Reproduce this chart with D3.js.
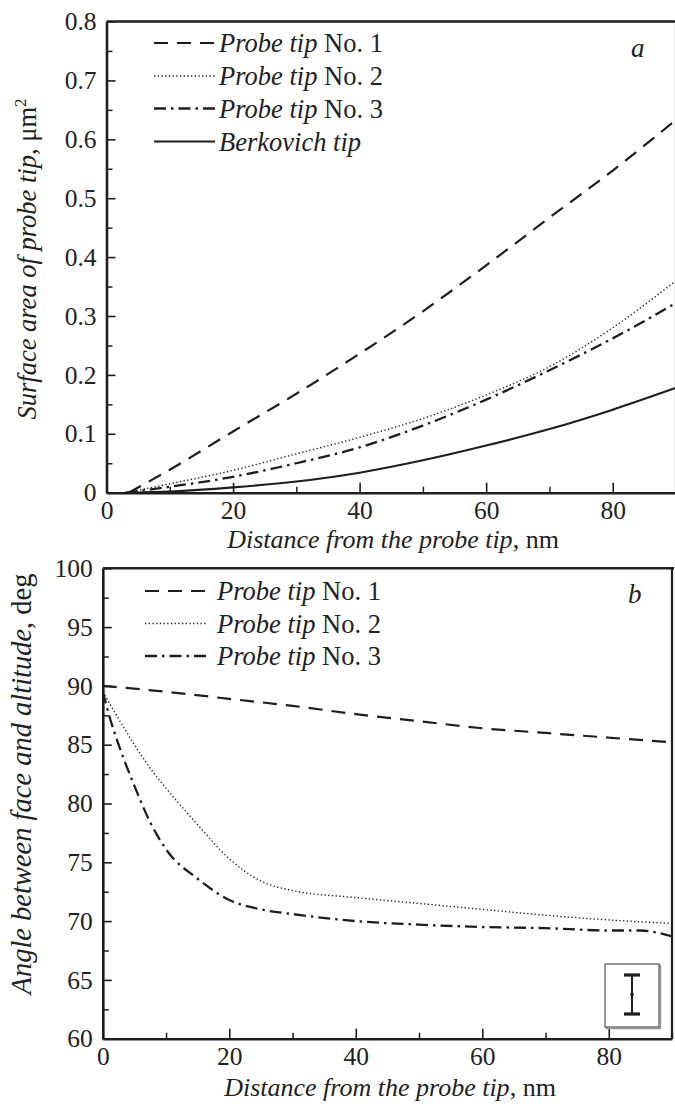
<!DOCTYPE html>
<html>
<head>
<meta charset="utf-8">
<script src="https://cdn.jsdelivr.net/npm/d3@7"></script>
<style>
  html, body { margin: 0; padding: 0; background: #fff; }
  svg, svg text { font-family: "Liberation Serif", "Times New Roman", Tinos, "DejaVu Serif", serif !important; }
  .tick text { font-size: 25.5px; fill: #222; }
</style>
</head>
<body>
<svg id="chart" width="675" height="1104"></svg>
<script>
// ---------- Data (panel a) ----------
const tip1X = [3.5, 10, 20, 30, 40, 50, 60, 70, 80, 90];
const tip1Y = [0, 0.039, 0.104, 0.168, 0.236, 0.308, 0.386, 0.467, 0.547, 0.633];
const tip2X = [3, 10, 20, 30, 40, 50, 60, 70, 80, 90];
const tip2Y = [0, 0.015, 0.038, 0.066, 0.094, 0.126, 0.166, 0.214, 0.280, 0.360];
const tip3X = [3, 10, 20, 30, 40, 50, 60, 70, 80, 90];
const tip3Y = [0, 0.010, 0.027, 0.050, 0.077, 0.114, 0.158, 0.208, 0.262, 0.322];
const berkX = [4, 10, 20, 30, 40, 50, 60, 70, 80, 90];
const berkY = [0, 0.002, 0.009, 0.019, 0.034, 0.055, 0.080, 0.108, 0.141, 0.178];

// ---------- Data (panel b) ----------
const ang1X = [0, 10, 20, 30, 40, 50, 60, 70, 80, 90];
const ang1Y = [90, 89.5, 88.9, 88.3, 87.6, 87.0, 86.4, 86.0, 85.6, 85.2];
const ang2X = [0, 2.5, 5, 7.5, 10, 15, 20, 25, 30, 40, 50, 60, 70, 80, 90];
const ang2Y = [89.5, 87.2, 85.0, 83.0, 81.3, 78.2, 75.3, 73.4, 72.6, 72.0, 71.5, 71.0, 70.5, 70.1, 69.8];
const ang3X = [0, 1, 2.5, 5, 7.5, 10, 15, 20, 25, 30, 40, 50, 60, 70, 80, 85, 90];
const ang3Y = [89.5, 87.5, 85.0, 81.5, 78.4, 76.1, 73.6, 71.8, 71.0, 70.6, 70.0, 69.7, 69.5, 69.4, 69.2, 69.2, 68.7];

// ---------- Ticks / labels ----------
const xMajorTicks = [0, 20, 40, 60, 80];
const xMinorTicks = [10, 30, 50, 70, 90];
const aMajorTicks = [0, 0.1, 0.2, 0.3, 0.4, 0.5, 0.6, 0.7, 0.8];
const aMinorTicks = [0.05, 0.15, 0.25, 0.35, 0.45, 0.55, 0.65, 0.75];
const bMajorTicks = [60, 65, 70, 75, 80, 85, 90, 95, 100];
const bMinorTicks = [62.5, 67.5, 72.5, 77.5, 82.5, 87.5, 92.5, 97.5];
const seriesNamesA = ["No. 1", "No. 2", "No. 3", "Berkovich tip"];
const seriesNamesB = ["No. 1", "No. 2", "No. 3"];

const styles = [
  { dash: "14,9", w: 2.2 },
  { dash: "1.3,2.4", w: 1.4 },
  { dash: "12,5,2.5,5", w: 2.3 },
  { dash: null, w: 2.1 }
];
const INK = "#1e1e1e";
const FONT = '"Liberation Serif", "Times New Roman", Tinos, "DejaVu Serif", serif';

const svg = d3.select("#chart");

function fmtA(d) { return d === 0 ? "0" : d3.format(".1f")(d); }

function panel(cfg) {
  const x = d3.scaleLinear().domain([0, 90]).range([cfg.left, cfg.right]);
  const y = d3.scaleLinear().domain(cfg.yDomain).range([cfg.bottom, cfg.top]);
  const g = svg.append("g").attr("font-family", FONT);
  const clipId = "clip" + cfg.id;
  svg.append("clipPath").attr("id", clipId).append("rect")
    .attr("x", cfg.left).attr("y", cfg.top)
    .attr("width", cfg.right - cfg.left).attr("height", cfg.bottom - cfg.top);

  // minor ticks
  g.append("g").attr("transform", `translate(0,${cfg.bottom})`)
    .call(d3.axisBottom(x).tickValues(xMinorTicks).tickSize(-6).tickFormat(""))
    .call(s => s.select(".domain").remove())
    .call(s => s.selectAll("line").attr("stroke", INK).attr("stroke-width", 1.5));
  g.append("g").attr("transform", `translate(${cfg.left},0)`)
    .call(d3.axisLeft(y).tickValues(cfg.yMinor).tickSize(-6).tickFormat(""))
    .call(s => s.select(".domain").remove())
    .call(s => s.selectAll("line").attr("stroke", INK).attr("stroke-width", 1.5));

  // major ticks
  g.append("g").attr("transform", `translate(0,${cfg.bottom})`)
    .call(d3.axisBottom(x).tickValues(xMajorTicks).tickSizeInner(-10).tickSizeOuter(0).tickPadding(8))
    .attr("font-family", FONT)
    .call(s => s.select(".domain").attr("stroke", INK).attr("stroke-width", 2.6))
    .call(s => s.selectAll("line").attr("stroke", INK).attr("stroke-width", 1.6));
  g.append("g").attr("transform", `translate(${cfg.left},0)`)
    .call(d3.axisLeft(y).tickValues(cfg.yMajor).tickSizeInner(-9).tickSizeOuter(0).tickPadding(10).tickFormat(cfg.fmt))
    .attr("font-family", FONT)
    .call(s => s.select(".domain").attr("stroke", INK).attr("stroke-width", 2.6))
    .call(s => s.selectAll("line").attr("stroke", INK).attr("stroke-width", 1.6));

  // frame top + right
  g.append("line").attr("x1", cfg.left).attr("x2", cfg.right + 2).attr("y1", cfg.top).attr("y2", cfg.top)
    .attr("stroke", INK).attr("stroke-width", 2.4);
  g.append("line").attr("x1", cfg.right).attr("x2", cfg.right).attr("y1", cfg.top).attr("y2", cfg.bottom)
    .attr("stroke", INK).attr("stroke-width", 2.2);

  // series
  const line = d3.line().x(d => x(d[0])).y(d => y(d[1])).curve(d3.curveMonotoneX);
  cfg.series.forEach((s, i) => {
    const pts = s.x.map((v, k) => [v, s.y[k]]);
    g.append("path").datum(pts).attr("d", line)
      .attr("clip-path", `url(#${clipId})`)
      .attr("fill", "none").attr("stroke", INK)
      .attr("stroke-width", styles[i].w)
      .attr("stroke-dasharray", styles[i].dash)
      .attr("stroke-linecap", "butt");
  });

  // legend
  cfg.names.forEach((n, i) => {
    const yy = cfg.legY[i];
    g.append("line").attr("x1", cfg.legX1).attr("x2", cfg.legX2).attr("y1", yy).attr("y2", yy)
      .attr("stroke", INK).attr("stroke-width", styles[i].w)
      .attr("stroke-dasharray", styles[i].dash);
    const t = g.append("text").attr("x", cfg.legText).attr("y", yy + 9)
      .attr("font-size", 26.5).attr("fill", "#222");
    if (n.startsWith("No.")) {
      t.append("tspan").attr("font-style", "italic").text("Probe tip");
      t.append("tspan").text(" " + n);
    } else {
      t.append("tspan").attr("font-style", "italic").text(n);
    }
  });

  // panel letter
  g.append("text").attr("x", cfg.letterX).attr("y", cfg.letterY)
    .attr("font-size", 27).attr("font-style", "italic").attr("fill", "#222").text(cfg.letter);

  // x axis title
  const xt = g.append("text").attr("x", cfg.xTitleC).attr("y", cfg.xTitleY)
    .attr("text-anchor", "middle").attr("font-size", 26).attr("fill", "#222");
  xt.append("tspan").attr("font-style", "italic").text("Distance from the probe tip");
  xt.append("tspan").text(", nm");

  // y axis title
  const yt = g.append("text").attr("transform", `translate(${cfg.yTitleX},${cfg.yTitleC}) rotate(-90)`)
    .attr("text-anchor", "middle").attr("font-size", cfg.yTitleSize).attr("fill", "#222");
  cfg.yTitle(yt);
  return { x, y, g };
}

panel({
  id: "a", left: 106.5, right: 676, top: 21.5, bottom: 492.7,
  yDomain: [0, 0.8], yMajor: aMajorTicks, yMinor: aMinorTicks, fmt: fmtA,
  series: [
    { x: tip1X, y: tip1Y }, { x: tip2X, y: tip2Y }, { x: tip3X, y: tip3Y }, { x: berkX, y: berkY }
  ],
  names: seriesNamesA, legY: [43, 76, 108.5, 141.5], legX1: 154, legX2: 215, legText: 219,
  letter: "a", letterX: 631, letterY: 57,
  xTitleC: 393, xTitleY: 548, yTitleX: 36, yTitleC: 259, yTitleSize: 26.5,
  yTitle: t => {
    t.append("tspan").attr("font-style", "italic").text("Surface area of probe tip");
    t.append("tspan").text(", μm");
    t.append("tspan").attr("font-size", 17).attr("dy", -10).text("2");
  }
});

const pb = panel({
  id: "b", left: 102.8, right: 672, top: 568.3, bottom: 1038.7,
  yDomain: [60, 100], yMajor: bMajorTicks, yMinor: bMinorTicks, fmt: d3.format("d"),
  series: [
    { x: ang1X, y: ang1Y }, { x: ang2X, y: ang2Y }, { x: ang3X, y: ang3Y }
  ],
  names: seriesNamesB, legY: [591, 623.5, 656], legX1: 145, legX2: 207, legText: 217,
  letter: "b", letterX: 628, letterY: 603,
  xTitleC: 390, xTitleY: 1096, yTitleX: 31, yTitleC: 784, yTitleSize: 28.5,
  yTitle: t => {
    t.append("tspan").attr("font-style", "italic").text("Angle between face and altitude");
    t.append("tspan").text(", deg");
  }
});

// inset box with error-bar symbol (panel b)
const box = pb.g.append("g");
box.append("rect").attr("x", 606.5).attr("y", 965.5).attr("width", 54).attr("height", 63)
  .attr("fill", "none").attr("stroke", "#999").attr("stroke-width", 1.6);
box.append("rect").attr("x", 605).attr("y", 964).attr("width", 54).attr("height", 63)
  .attr("fill", "#fff").attr("stroke", "#333").attr("stroke-width", 1);
box.append("line").attr("x1", 632).attr("x2", 632).attr("y1", 975).attr("y2", 1014)
  .attr("stroke", INK).attr("stroke-width", 2);
[975, 1014].forEach(yy => box.append("line").attr("x1", 624).attr("x2", 640).attr("y1", yy).attr("y2", yy)
  .attr("stroke", INK).attr("stroke-width", 3.2));
box.append("circle").attr("cx", 632).attr("cy", 994.5).attr("r", 1.8).attr("fill", INK);
</script>
</body>
</html>
